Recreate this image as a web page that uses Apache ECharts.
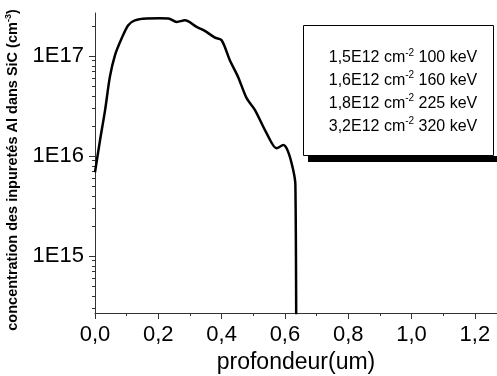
<!DOCTYPE html>
<html>
<head>
<meta charset="utf-8">
<script src="https://cdn.jsdelivr.net/npm/echarts@6/dist/echarts.min.js"></script>
<style>
  html, body { margin: 0; padding: 0; background: #fff; }
  #chart { width: 497px; height: 376px; }
</style>
</head>
<body>
<div id="chart"></div>
<script>
// profil d'implantation Al dans SiC
const depth = [0, 0.016, 0.032, 0.047, 0.063, 0.084, 0.105, 0.126, 0.163, 0.205, 0.232, 0.258, 0.284,
  0.321, 0.347, 0.379, 0.400, 0.426, 0.452, 0.479, 0.505, 0.542, 0.574, 0.595, 0.610, 0.626, 0.633, 0.636]
const conc = [6.9e15, 1.45e16, 2.9e16, 6.2e16, 1.02e17, 1.5e17, 2.04e17, 2.28e17, 2.38e17, 2.39e17, 2.38e17, 2.2e17, 2.28e17,
  1.96e17, 1.79e17, 1.53e17, 1.44e17, 9.1e16, 6.2e16, 3.8e16, 2.9e16, 1.7e16, 1.2e16, 1.29e16, 1.11e16, 7.3e15, 5.2e15, 1e14]

const xMajor = [0, 0.2, 0.4, 0.6, 0.8, 1.0, 1.2]
const xMinor = [0.1, 0.3, 0.5, 0.7, 0.9, 1.1]
const yMajor = [1e15, 1e16, 1e17]
const yMinor = [3e14, 4e14, 5e14, 6e14, 7e14, 8e14, 9e14,
  2e15, 3e15, 4e15, 5e15, 6e15, 7e15, 8e15, 9e15,
  2e16, 3e16, 4e16, 5e16, 6e16, 7e16, 8e16, 9e16, 2e17]

const legendLines = [
  ["1,5E12 cm", "-2", " 100 keV"],
  ["1,6E12 cm", "-2", " 160 keV"],
  ["1,8E12 cm", "-2", " 225 keV"],
  ["3,2E12 cm", "-2", " 320 keV"]
]

const FONT = "Liberation Sans, Arial, sans-serif"
const AXIS_COLOR = "#333"

const chart = echarts.init(document.getElementById("chart"))

const legendGraphics = [
  {
    type: "rect",
    shape: { x: 308, y: 156, width: 200, height: 6 },
    style: { fill: "#000" }
  },
  {
    type: "rect",
    shape: { x: 303.5, y: 25.5, width: 190, height: 130 },
    style: { fill: "#fff", stroke: "#000", lineWidth: 1 }
  }
].concat(legendLines.map((l, i) => ({
  type: "text",
  x: 403,
  y: 58 + i * 22.7,
  style: {
    text: l[0] + "{sup|" + l[1] + "}" + l[2],
    fontFamily: FONT,
    fontSize: 16,
    lineHeight: 20,
    fill: "#000",
    align: "center",
    verticalAlign: "middle",
    rich: {
      sup: { fontSize: 10, lineHeight: 8, fontFamily: FONT, verticalAlign: "top", fill: "#000" }
    }
  }
})))

chart.setOption({
  animation: false,
  backgroundColor: "#fff",
  grid: { left: 95, right: 0, top: 13, bottom: 63, outerBoundsMode: "none" },
  xAxis: [
    {
      type: "value",
      min: 0,
      max: 1.27,
      name: "profondeur(um)",
      nameLocation: "middle",
      nameGap: 37,
      nameTextStyle: { fontFamily: FONT, fontSize: 23, color: "#000" },
      axisLine: { lineStyle: { color: AXIS_COLOR, width: 1 } },
      axisTick: { customValues: xMajor, length: 6, lineStyle: { color: AXIS_COLOR } },
      axisLabel: {
        customValues: xMajor,
        margin: 11,
        fontFamily: FONT,
        fontSize: 22,
        color: "#000",
        formatter: v => v.toFixed(1).replace(".", ",")
      },
      splitLine: { show: false }
    },
    {
      type: "value",
      min: 0,
      max: 1.27,
      position: "bottom",
      axisLine: { show: false },
      axisTick: { customValues: xMinor, length: 3, lineStyle: { color: AXIS_COLOR } },
      axisLabel: { show: false },
      splitLine: { show: false }
    }
  ],
  yAxis: [
    {
      type: "log",
      logBase: 10,
      min: 2.7e14,
      max: 2.7e17,
      name: "concentration des inpuretés Al dans SiC (cm{sup|-3})",
      nameLocation: "middle",
      nameGap: 62,
      nameTextStyle: {
        fontFamily: FONT,
        fontSize: 14.5,
        lineHeight: 18,
        fontWeight: "bold",
        color: "#000",
        padding: [0, 14, 0, 0],
        rich: {
          sup: { fontFamily: FONT, fontSize: 9, lineHeight: 7, fontWeight: "bold", verticalAlign: "top", color: "#000" }
        }
      },
      axisLine: { show: true, lineStyle: { color: AXIS_COLOR, width: 1 } },
      axisTick: { customValues: yMajor, length: 6, lineStyle: { color: AXIS_COLOR } },
      axisLabel: {
        customValues: yMajor,
        margin: 11,
        fontFamily: FONT,
        fontSize: 22,
        color: "#000",
        formatter: v => "1E" + Math.round(Math.log10(v))
      },
      splitLine: { show: false }
    },
    {
      type: "log",
      logBase: 10,
      min: 2.7e14,
      max: 2.7e17,
      position: "left",
      axisLine: { show: false },
      axisTick: { customValues: yMinor, length: 3, lineStyle: { color: AXIS_COLOR } },
      axisLabel: { show: false },
      splitLine: { show: false }
    }
  ],
  graphic: legendGraphics,
  series: [
    {
      type: "line",
      data: depth.map((d, i) => [d, conc[i]]),
      showSymbol: false,
      smooth: 0.3,
      clip: true,
      lineStyle: { color: "#000", width: 2.5 }
    }
  ]
})
</script>
</body>
</html>
